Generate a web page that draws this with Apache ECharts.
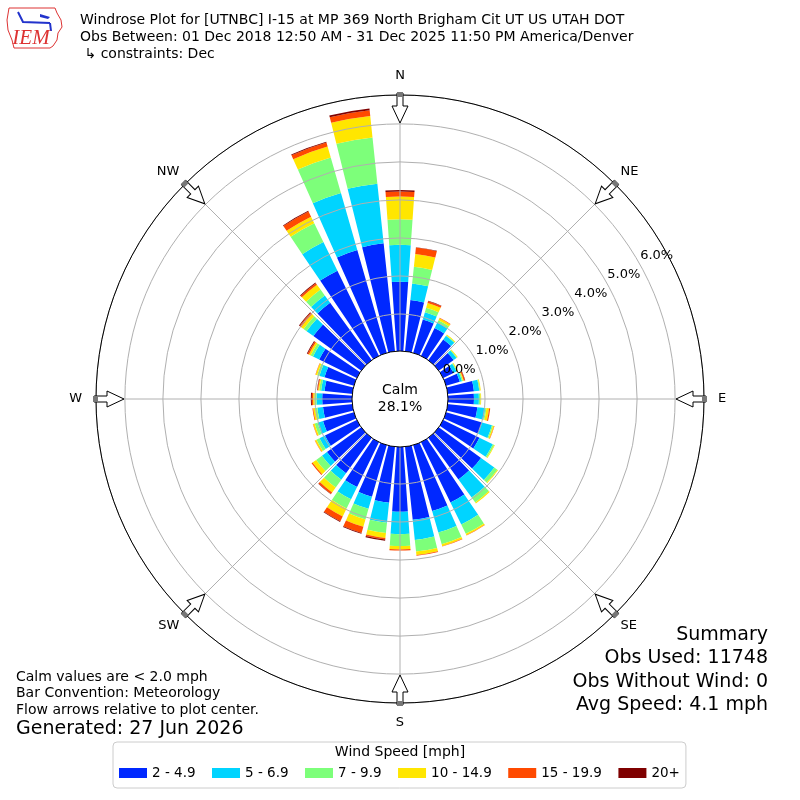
<!DOCTYPE html>
<html><head><meta charset="utf-8">
<script src="https://cdn.jsdelivr.net/npm/echarts@6/dist/echarts.min.js"></script>
<style>html,body{margin:0;padding:0;background:#fff}#c{width:800px;height:800px}</style>
</head><body><div id="c"></div>
<script>
// ---------- data ----------
const directions = ['0','10','20','30','40','50','60','70','80','90','100','110','120','130','140','150','160','170',
  '180','190','200','210','220','230','240','250','260','270','280','290','300','310','320','330','340','350'];
const speedBins = ['2 - 4.9','5 - 6.9','7 - 9.9','10 - 14.9','15 - 19.9','20+'];
const binColors = ['#0028ff','#00d4ff','#7dff7a','#ffe600','#ff4a00','#7f0000'];
const speed2to5 = [1.85,1.38,0.94,0.84,0.70,0.51,0.33,0.40,0.72,0.71,0.81,1.01,1.09,1.40,1.38,1.79,1.83,1.96,
  1.73,1.51,1.44,1.34,1.18,1.14,0.96,0.87,0.80,0.81,0.76,0.83,1.13,1.58,1.89,2.52,2.84,2.88];
const speed5to7 = [0.97,0.44,0.20,0.16,0.12,0.09,0.09,0.06,0.14,0.13,0.21,0.27,0.39,0.43,0.59,0.65,0.59,0.53,
  0.59,0.53,0.33,0.36,0.21,0.16,0.16,0.15,0.15,0.15,0.09,0.14,0.18,0.22,0.24,0.84,1.56,1.58];
const speed7to10 = [0.67,0.44,0.12,0.07,0.02,0.02,0.02,0.03,0.02,0.04,0.03,0.03,0.04,0.10,0.16,0.27,0.32,0.31,
  0.31,0.27,0.29,0.27,0.25,0.19,0.09,0.08,0.06,0.05,0.05,0.06,0.07,0.10,0.19,0.55,0.97,1.22];
const speed10to15 = [0.60,0.34,0.13,0.06,0.02,0.02,0.02,0.02,0.02,0.02,0.07,0.03,0.02,0.02,0.03,0.04,0.05,0.09,
  0.09,0.13,0.20,0.23,0.16,0.12,0.04,0.04,0.05,0.04,0.03,0.04,0.05,0.08,0.16,0.19,0.30,0.57];
const speed15to20 = [0.13,0.17,0.05,0.01,0,0,0,0.03,0,0,0.03,0.01,0,0,0,0.01,0.01,0.02,
  0.03,0.04,0.17,0.14,0.05,0.03,0.01,0.01,0.02,0.035,0.02,0.01,0.04,0.05,0.05,0.15,0.11,0.15];
const speed20plus = [0.04,0.01,0.01,0,0,0,0,0.01,0,0,0,0,0,0,0,0,0,0,
  0,0.03,0.02,0.02,0.01,0,0,0,0,0.025,0.01,0,0.02,0.02,0.02,0.02,0.02,0.05];
const binValues = [speed2to5, speed5to7, speed7to10, speed10to15, speed15to20, speed20plus];
const radialMax = 6.76;
const compassLabels = ['N','NE','E','SE','S','SW','W','NW'];
const calmPct = 28.1;
const titleLines = [
  'Windrose Plot for [UTNBC] I-15 at MP 369 North Brigham Cit UT US UTAH DOT',
  'Obs Between: 01 Dec 2018 12:50 AM - 31 Dec 2025 11:50 PM America/Denver',
  ' \u21b3 constraints: Dec'
];
const noteLines = ['Calm values are < 2.0 mph','Bar Convention: Meteorology','Flow arrows relative to plot center.'];
const generatedText = 'Generated: 27 Jun 2026';
const summaryLines = ['Summary','Obs Used: 11748','Obs Without Wind: 0','Avg Speed: 4.1 mph'];
const legendTitle = 'Wind Speed [mph]';

// ---------- layout ----------
const CX = 400, CY = 399, R0 = 47, R1 = 304;
const FONT = 'DejaVu Sans';
const chart = echarts.init(document.getElementById('c'), null, {renderer: 'canvas', width: 800, height: 800});

const series = speedBins.map((name, i) => ({
  type: 'bar', name, coordinateSystem: 'polar', polarIndex: 0, stack: 'wind',
  data: binValues[i], itemStyle: {color: binColors[i]}, barCategoryGap: '20%', z: 2, silent: true
}));

function txt(text, x, y, size, align, extra) {
  return Object.assign({type: 'text', x, y, z: 100, silent: true,
    style: {text, fill: '#000', fontSize: size, fontFamily: FONT, align: align || 'left', verticalAlign: 'middle'}}, extra || {});
}
function arrow(deg) {
  return {
    type: 'group', x: CX, y: CY, rotation: -deg * Math.PI / 180, z: 50, silent: true,
    children: [
      {type: 'polygon', z: 50, shape: {points: [[-3,-306],[3,-306],[3,-293],[8,-293],[0,-276],[-8,-293],[-3,-293]]},
        style: {fill: '#fff', stroke: '#000', lineWidth: 1}},
      {type: 'rect', z: 51, shape: {x: -3, y: -307, width: 6, height: 5}, style: {fill: '#777'}}
    ]
  };
}

const graphics = [];
titleLines.forEach((t, i) => graphics.push(txt(t, 80, 20 + i * 17, 14, 'left')));
noteLines.forEach((t, i) => graphics.push(txt(t, 16, 677 + i * 16.5, 14, 'left')));
graphics.push(txt(generatedText, 16, 729, 19, 'left'));
summaryLines.forEach((t, i) => graphics.push(txt(t, 768, 635 + i * 23.5, 19, 'right')));
graphics.push(txt(legendTitle, 400, 752, 14, 'center'));
[0,45,90,135,180,225,270,315].forEach(d => graphics.push(arrow(d)));
graphics.push({type: 'circle', z: 90, silent: true, shape: {cx: CX, cy: CY, r: 48},
  style: {fill: '#fff', stroke: '#000', lineWidth: 1}});
graphics.push(txt('Calm', CX, 390, 14, 'center'));
graphics.push(txt(calmPct.toFixed(1) + '%', CX, 407, 14, 'center'));
// IEM logo
graphics.push({type: 'polygon', z: 100, silent: true,
  shape: {points: [[9,8],[55,8],[57,13],[61,20],[62,27],[58,33],[57,40],[53,46],[50,48],[14,48],[12,40],[8,30],[7,20]]},
  style: {fill: 'none', stroke: '#d33', lineWidth: 1}});
graphics.push({type: 'polyline', z: 100, silent: true, shape: {points: [[18,12],[23,22],[50,23]]},
  style: {stroke: '#2233cc', lineWidth: 2, fill: 'none'}});
graphics.push({type: 'polygon', z: 100, silent: true, shape: {points: [[40,14],[50,17],[48,19],[40,17]]},
  style: {fill: '#2233cc'}});
graphics.push({type: 'polyline', z: 100, silent: true, shape: {points: [[50,23],[51,31]]},
  style: {stroke: '#2233cc', lineWidth: 2}});
graphics.push({type: 'text', x: 31, y: 38, z: 100, silent: true,
  style: {text: 'IEM', fill: '#d33', font: 'italic 21px "Liberation Serif"', align: 'center', verticalAlign: 'middle'}});

const compassRich = {
  v: {fontSize: 13, fontFamily: FONT, color: '#000', padding: [5, 0, 5, 0]},
  h: {fontSize: 13, fontFamily: FONT, color: '#000', padding: [0, 6, 0, 6]},
  d: {fontSize: 13, fontFamily: FONT, color: '#000'}
};

const option = {
  animation: false,
  backgroundColor: '#fff',
  polar: [
    {center: [CX, CY], radius: [R0, R1]},
    {center: [CX, CY], radius: [R0 + 19, R1 + 19]},
    {center: [CX, CY], radius: [R0, R1]}
  ],
  angleAxis: [
    {polarIndex: 0, type: 'category', data: directions, startAngle: 95, clockwise: true, boundaryGap: true,
      axisLine: {show: false}, axisTick: {show: false}, axisLabel: {show: false}, splitLine: {show: false}},
    {polarIndex: 1, type: 'value', min: 0, max: 360, startAngle: 30, clockwise: true, show: false},
    {polarIndex: 2, type: 'value', min: 0, max: 360, interval: 45, startAngle: 90, clockwise: true, z: 6,
      axisLine: {show: true, lineStyle: {color: '#000', width: 1}},
      axisTick: {show: false},
      axisLabel: {show: true, margin: 8, color: '#000', fontSize: 13, fontFamily: FONT, rich: compassRich,
        formatter: v => {
          const k = Math.round(v / 45) % 8;
          const key = (k % 2 === 1) ? 'd' : (k % 4 === 0 ? 'v' : 'h');
          return '{' + key + '|' + compassLabels[k] + '}';
        }},
      splitLine: {show: true, lineStyle: {color: '#b0b0b0', width: 1}}}
  ],
  radiusAxis: [
    {polarIndex: 0, type: 'value', min: 0, max: radialMax, interval: 1, z: 5,
      axisLine: {show: false}, axisTick: {show: false}, axisLabel: {show: false},
      splitLine: {show: true, lineStyle: {color: '#b0b0b0', width: 1}}},
    {polarIndex: 1, type: 'value', min: 0, max: radialMax, interval: 1, z: 7,
      axisLine: {show: false}, axisTick: {show: false}, splitLine: {show: false},
      axisLabel: {show: true, showMaxLabel: false, margin: -4, align: 'center', verticalAlign: 'middle',
        color: '#000', fontSize: 13, fontFamily: FONT,
        formatter: v => (Math.abs(v - Math.round(v)) < 1e-6 ? v.toFixed(1) + '%' : '')}},
    {polarIndex: 2, type: 'value', min: 0, max: radialMax, show: false}
  ],
  legend: {
    data: speedBins, left: 113, top: 742, orient: 'horizontal', icon: 'rect',
    itemWidth: 28, itemHeight: 10, itemGap: 16.5, selectedMode: false,
    padding: [24, 6, 8, 6], borderColor: '#cccccc', borderWidth: 1, borderRadius: 4, backgroundColor: '#fff',
    textStyle: {color: '#000', fontSize: 13.5, fontFamily: FONT}
  },
  series,
  graphic: graphics
};
chart.setOption(option);
</script>
</body></html>
